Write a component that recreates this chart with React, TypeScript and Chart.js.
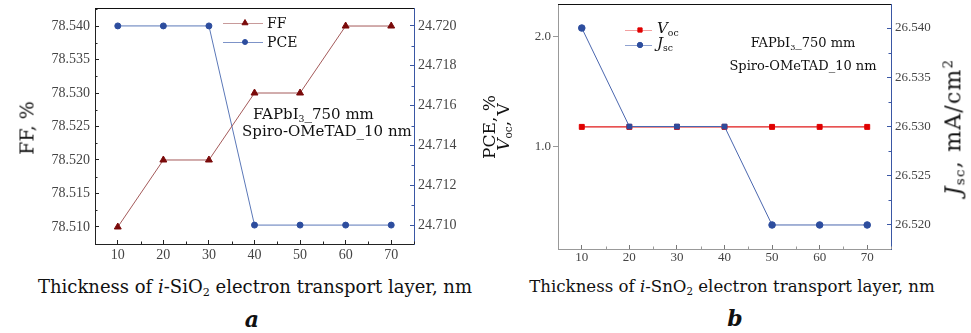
import React, { useEffect, useRef } from 'react';
import { Chart, registerables } from 'chart.js';
import { drawPoint } from 'chart.js/helpers';

Chart.register(...registerables);

// Thickness of the electron transport layer, nm
const thickness = [10, 20, 30, 40, 50, 60, 70];
// Panel a: i-SiO2 layer
const ffValues = [78.51, 78.52, 78.52, 78.53, 78.53, 78.54, 78.54];
const pceValues = [24.72, 24.72, 24.72, 24.71, 24.71, 24.71, 24.71];
// Panel b: i-SnO2 layer
const vocValues = [1.18, 1.18, 1.18, 1.18, 1.18, 1.18, 1.18];
const jscValues = [26.54, 26.53, 26.53, 26.53, 26.52, 26.52, 26.52];
const jscMarkers = ['circle', 'rect', 'rect', 'rect', 'circle', 'circle', 'circle'];

// Tick values
const thicknessTicks = [10, 20, 30, 40, 50, 60, 70];
const ffTicks = [78.51, 78.515, 78.52, 78.525, 78.53, 78.535, 78.54];
const pceTicks = [24.71, 24.712, 24.714, 24.716, 24.718, 24.72];
const vocTicks = [1.0, 2.0];
const jscTicks = [26.52, 26.525, 26.53, 26.535, 26.54];

const SERIF = '"DejaVu Serif", serif';
const TIMES = '"Liberation Serif", "Times New Roman", serif';

const FF_DARK = '#7a0a0a';
const FF_LINE = '#a45a5a';
const BLUE_DARK = '#2d4d9e';
const BLUE_LINE = '#5b78b8';
const AXIS_BLUE = '#3a57a4';
const RED = '#e01818';

const fixTicks = (vals: number[]) => (scale: any) => {
  scale.ticks = vals.map((v) => ({ value: v }));
};

// fixed axis box size, no extra label padding around the plot area
const boxSize = (size: number) => (s: any) => {
  if (s.isHorizontal()) s.height = size;
  else s.width = size;
  s.paddingTop = 0;
  s.paddingBottom = 0;
  s.paddingLeft = 0;
  s.paddingRight = 0;
};

// Draws the top frame line, short inner minor ticks and the legend samples
const framePlugin = {
  id: 'frame',
  afterDraw(chart: any, _args: any, opts: any) {
    const ctx = chart.ctx;
    const { top, bottom, left, right } = chart.chartArea;
    ctx.save();
    ctx.lineWidth = 1;
    ctx.strokeStyle = opts.topColor || '#000';
    ctx.beginPath();
    ctx.moveTo(left, Math.round(top) + 0.5);
    ctx.lineTo(right, Math.round(top) + 0.5);
    ctx.stroke();

    const skip: string[] = opts.skipMinor || [];
    Object.keys(chart.scales).forEach((id) => {
      if (skip.includes(id)) return;
      const s = chart.scales[id];
      const vals = s.ticks.map((t: any) => t.value);
      if (vals.length < 2) return;
      const step = vals[1] - vals[0];
      ctx.strokeStyle = s.options.border.color;
      for (let k = -1; k < vals.length; k++) {
        const v = vals[0] + step * (k + 0.5);
        if (v < s.min || v > s.max) continue;
        const p = Math.round(s.getPixelForValue(v)) + 0.5;
        ctx.beginPath();
        if (s.position === 'bottom') {
          ctx.moveTo(p, bottom);
          ctx.lineTo(p, bottom - 2.5);
        } else if (s.position === 'left') {
          ctx.moveTo(left, p);
          ctx.lineTo(left + 2.5, p);
        } else {
          ctx.moveTo(right, p);
          ctx.lineTo(right - 2.5, p);
        }
        ctx.stroke();
      }
    });

    (opts.legend || []).forEach((it: any) => {
      const ds = chart.data.datasets[it.dataset];
      ctx.strokeStyle = it.lineColor;
      ctx.lineWidth = 1;
      ctx.beginPath();
      ctx.moveTo(it.x0, it.y + 0.5);
      ctx.lineTo(it.x1, it.y + 0.5);
      ctx.stroke();
      ctx.fillStyle = ds.pointBackgroundColor;
      ctx.strokeStyle = ds.pointBorderColor;
      drawPoint(ctx, { pointStyle: it.style, radius: it.radius, rotation: 0, borderWidth: 1 }, it.xm, it.y);
    });
    ctx.restore();
  },
};

const pts = (ys: number[]) => thickness.map((x, i) => ({ x, y: ys[i] }));

function makeChartA(canvas: HTMLCanvasElement) {
  return new Chart(canvas, {
    type: 'line',
    data: {
      datasets: [
        {
          label: 'FF',
          data: pts(ffValues),
          yAxisID: 'y',
          borderColor: FF_LINE,
          borderWidth: 1,
          pointStyle: 'triangle',
          pointRadius: 4,
          pointBackgroundColor: FF_DARK,
          pointBorderColor: FF_DARK,
          pointBorderWidth: 1,
        },
        {
          label: 'PCE',
          data: pts(pceValues),
          yAxisID: 'y1',
          borderColor: BLUE_LINE,
          borderWidth: 1,
          pointStyle: 'circle',
          pointRadius: 3,
          pointBackgroundColor: BLUE_DARK,
          pointBorderColor: BLUE_DARK,
          pointBorderWidth: 1,
        },
      ],
    },
    options: {
      animation: false,
      responsive: false,
      devicePixelRatio: 1,
      layout: { padding: { top: 8, left: 0, right: 0, bottom: 0 }, autoPadding: false },
      plugins: {
        legend: { display: false },
        tooltip: { enabled: false },
        frame: {
          topColor: '#111',
          legend: [
            { dataset: 0, x0: 223, x1: 263, xm: 245, y: 23, style: 'triangle', radius: 3.5, lineColor: '#c89a9a' },
            { dataset: 1, x0: 223, x1: 263, xm: 245, y: 42, style: 'circle', radius: 2.5, lineColor: '#7d93c8' },
          ],
        },
      } as any,
      scales: {
        x: {
          type: 'linear',
          min: 5,
          max: 75,
          afterBuildTicks: fixTicks(thicknessTicks),
          afterFit: boxSize(26),
          grid: { drawOnChartArea: false, tickLength: -4, tickColor: '#222' },
          border: { color: '#222', width: 1 },
          ticks: { padding: 7, color: '#444', font: { family: TIMES, size: 14 }, callback: (v: any) => String(v) },
        },
        y: {
          type: 'linear',
          position: 'left',
          min: 78.50746,
          max: 78.54269,
          afterBuildTicks: fixTicks(ffTicks),
          afterFit: boxSize(95),
          grid: { drawOnChartArea: false, tickLength: -4, tickColor: '#222' },
          border: { color: '#222', width: 1 },
          ticks: { padding: 9, color: '#444', font: { family: TIMES, size: 14 }, callback: (v: any) => Number(v).toFixed(3) },
        },
        y1: {
          type: 'linear',
          position: 'right',
          min: 24.70905,
          max: 24.7209,
          afterBuildTicks: fixTicks(pceTicks),
          afterFit: boxSize(71),
          grid: { drawOnChartArea: false, tickLength: -4, tickColor: AXIS_BLUE },
          border: { color: AXIS_BLUE, width: 1 },
          ticks: { padding: 8, color: '#444', font: { family: TIMES, size: 14 }, callback: (v: any) => Number(v).toFixed(3) },
        },
      },
    },
    plugins: [framePlugin],
  } as any);
}

function makeChartB(canvas: HTMLCanvasElement) {
  return new Chart(canvas, {
    type: 'line',
    data: {
      datasets: [
        {
          label: 'Voc',
          data: pts(vocValues),
          yAxisID: 'y',
          order: 1,
          borderColor: RED,
          borderWidth: 1.2,
          pointStyle: 'rect',
          pointRadius: 3.5,
          pointBackgroundColor: '#e00000',
          pointBorderColor: '#e00000',
          pointBorderWidth: 1,
        },
        {
          label: 'Jsc',
          data: pts(jscValues),
          yAxisID: 'y1',
          order: 0,
          borderColor: '#4a66ae',
          borderWidth: 1,
          pointStyle: jscMarkers,
          pointRadius: 3.3,
          pointBackgroundColor: BLUE_DARK,
          pointBorderColor: BLUE_DARK,
          pointBorderWidth: 1,
        },
      ],
    },
    options: {
      animation: false,
      responsive: false,
      devicePixelRatio: 1,
      layout: { padding: { top: 4, left: 0, right: 0, bottom: 0 }, autoPadding: false },
      plugins: {
        legend: { display: false },
        tooltip: { enabled: false },
        frame: {
          topColor: '#111',
          skipMinor: ['y'],
          legend: [
            { dataset: 0, x0: 140, x1: 167, xm: 155, y: 30, style: 'rect', radius: 3, lineColor: '#f2a0a0' },
            { dataset: 1, x0: 140, x1: 167, xm: 155, y: 45, style: 'circle', radius: 2.7, lineColor: '#8fa2d0' },
          ],
        },
      } as any,
      scales: {
        x: {
          type: 'linear',
          min: 5,
          max: 75,
          afterBuildTicks: fixTicks(thicknessTicks),
          afterFit: boxSize(21),
          grid: { drawOnChartArea: false, tickLength: -4, tickColor: '#777' },
          border: { color: '#999', width: 1 },
          ticks: { padding: 5, color: '#444', font: { family: TIMES, size: 13 }, callback: (v: any) => String(v) },
        },
        y: {
          type: 'linear',
          position: 'left',
          min: 0.07,
          max: 2.297,
          afterBuildTicks: fixTicks(vocTicks),
          afterFit: boxSize(73),
          grid: { drawOnChartArea: false, tickLength: 5, tickColor: '#999' },
          border: { color: '#999', width: 1 },
          ticks: { padding: 2, color: '#444', font: { family: TIMES, size: 13 }, callback: (v: any) => Number(v).toFixed(1) },
        },
        y1: {
          type: 'linear',
          position: 'right',
          min: 26.51756,
          max: 26.54244,
          afterBuildTicks: fixTicks(jscTicks),
          afterFit: boxSize(80),
          grid: { drawOnChartArea: false, tickLength: -4, tickColor: AXIS_BLUE },
          border: { color: AXIS_BLUE, width: 1 },
          ticks: { padding: 8, color: '#444', font: { family: TIMES, size: 13 }, callback: (v: any) => Number(v).toFixed(3) },
        },
      },
    },
    plugins: [framePlugin],
  } as any);
}

type TxtProps = {
  x: number;
  y: number;
  size: number;
  rotate?: boolean;
  align?: 'left' | 'center';
  italic?: boolean;
  bold?: boolean;
  spacing?: number;
  children: React.ReactNode;
};

function Txt({ x, y, size, rotate, align = 'center', italic, bold, spacing, children }: TxtProps) {
  const tx = align === 'center' ? '-50%' : '0';
  return (
    <div
      style={{
        position: 'absolute',
        left: x,
        top: y,
        transform: `translate(${tx}, -50%)${rotate ? ' rotate(-90deg)' : ''}`,
        transformOrigin: align === 'center' ? '50% 50%' : '0 50%',
        whiteSpace: 'nowrap',
        fontFamily: SERIF,
        fontSize: size,
        fontStyle: italic ? 'italic' : 'normal',
        fontWeight: bold ? 'bold' : 'normal',
        letterSpacing: spacing ? `${spacing}px` : undefined,
        lineHeight: 1,
        color: '#111',
      }}
    >
      {children}
    </div>
  );
}

const Sub = ({ children }: { children: React.ReactNode }) => (
  <span style={{ fontSize: '0.62em', verticalAlign: '-0.3em', fontStyle: 'normal' }}>{children}</span>
);
const Sup = ({ children }: { children: React.ReactNode }) => (
  <span style={{ fontSize: '0.62em', verticalAlign: '0.55em' }}>{children}</span>
);

export default function App() {
  const refA = useRef<HTMLCanvasElement>(null);
  const refB = useRef<HTMLCanvasElement>(null);

  useEffect(() => {
    const a = makeChartA(refA.current!);
    const b = makeChartB(refB.current!);
    return () => {
      a.destroy();
      b.destroy();
    };
  }, []);

  return (
    <div style={{ position: 'fixed', left: 0, top: 0, width: 971, height: 333, background: '#fff', overflow: 'hidden' }}>
      <canvas ref={refA} width={485} height={270} style={{ position: 'absolute', left: 0, top: 0 }} />
      <canvas ref={refB} width={486} height={270} style={{ position: 'absolute', left: 485, top: 0 }} />

      {/* panel a */}
      <Txt x={27} y={128} size={19} rotate>FF, %</Txt>
      <Txt x={267} y={23} size={14} align="left">FF</Txt>
      <Txt x={267} y={42} size={14} align="left">PCE</Txt>
      <Txt x={253} y={115} size={15} align="left">FAPbI<Sub>3</Sub>_750 mm</Txt>
      <Txt x={242} y={131} size={15} align="left">Spiro-OMeTAD_10 nm</Txt>
      <Txt x={255} y={288} size={18}>
        Thickness of <i>i</i>-SiO<Sub>2</Sub> electron transport layer, nm
      </Txt>
      <Txt x={252} y={319} size={22} italic bold>a</Txt>

      {/* panel b */}
      <Txt x={489} y={127} size={17} rotate>PCE, %</Txt>
      <Txt x={504} y={127} size={17} rotate><i>V</i><Sub>oc</Sub>, V</Txt>
      <Txt x={954} y={127} size={22} rotate spacing={1.2}><i>J</i><Sub>sc</Sub>, mA/cm<Sup>2</Sup></Txt>
      <Txt x={657} y={29} size={15} align="left"><i>V</i><Sub>oc</Sub></Txt>
      <Txt x={657} y={44} size={15} align="left"><i>J</i><Sub>sc</Sub></Txt>
      <Txt x={803} y={44} size={13}>FAPbI<Sub>3</Sub>_750 mm</Txt>
      <Txt x={803} y={65} size={13}>Spiro-OMeTAD_10 nm</Txt>
      <Txt x={732} y={288} size={16.6}>
        Thickness of <i>i</i>-SnO<Sub>2</Sub> electron transport layer, nm
      </Txt>
      <Txt x={735} y={318} size={22} italic bold>b</Txt>
    </div>
  );
}
